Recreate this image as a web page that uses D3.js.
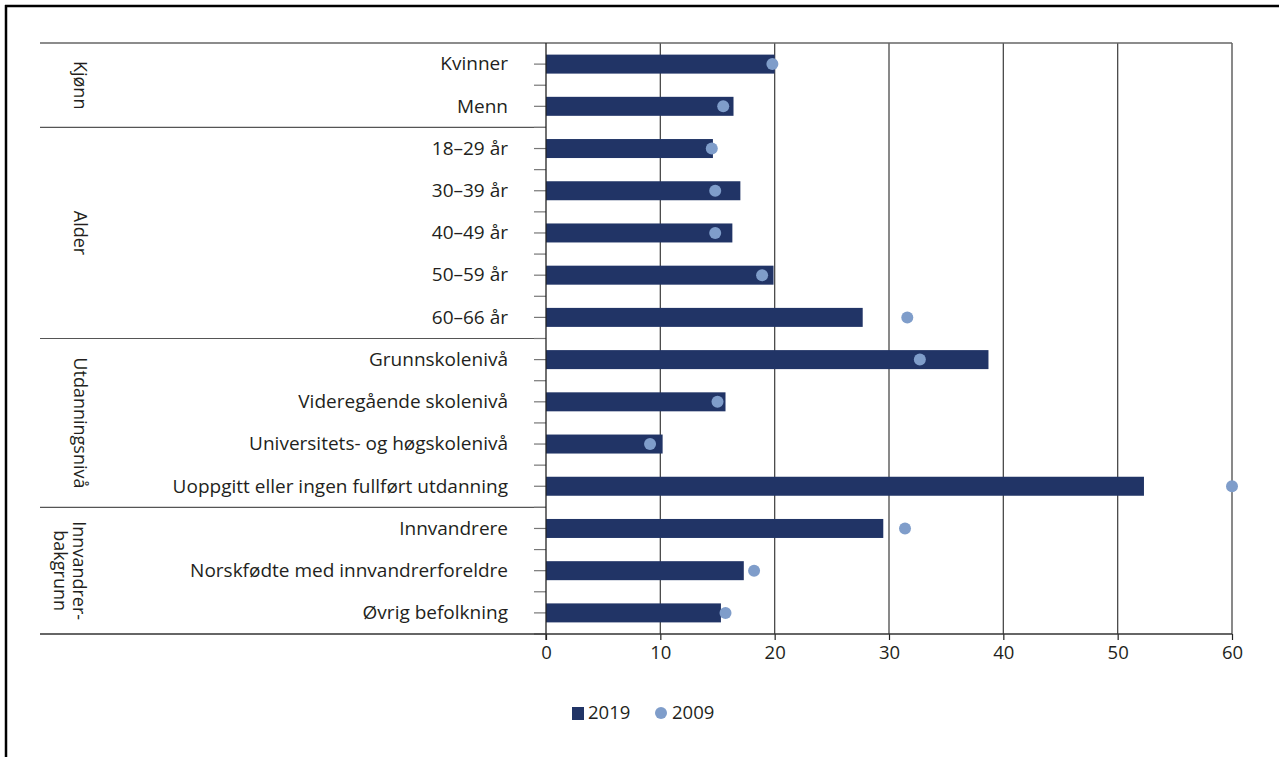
<!DOCTYPE html>
<meta charset="utf-8">
<style>
  body { margin: 0; background: #fff; }
  svg { display: block; font-family: "Open Sans", sans-serif; }
</style>
<svg width="1279" height="757"></svg>
<script src="https://d3js.org/d3.v7.min.js"></script>
<script>
const categories = ["Kvinner", "Menn", "18–29 år", "30–39 år", "40–49 år", "50–59 år", "60–66 år",
  "Grunnskolenivå", "Videregående skolenivå", "Universitets- og høgskolenivå",
  "Uoppgitt eller ingen fullført utdanning", "Innvandrere",
  "Norskfødte med innvandrerforeldre", "Øvrig befolkning"];
const values2019 = [20.0, 16.4, 14.6, 17.0, 16.3, 19.9, 27.7, 38.7, 15.7, 10.2, 52.3, 29.5, 17.3, 15.3];
const values2009 = [19.8, 15.5, 14.5, 14.8, 14.8, 18.9, 31.6, 32.7, 15.0, 9.1, 60.0, 31.4, 18.2, 15.7];
const groups = [
  { label: ["Kjønn"], first: "Kvinner", last: "Menn" },
  { label: ["Alder"], first: "18–29 år", last: "60–66 år" },
  { label: ["Utdanningsnivå"], first: "Grunnskolenivå", last: "Uoppgitt eller ingen fullført utdanning" },
  { label: ["Innvandrer-", "bakgrunn"], first: "Innvandrere", last: "Øvrig befolkning" }
];
const xTicks = [0, 10, 20, 30, 40, 50, 60];

const svg = d3.select("svg");
const barColor = "#213466", dotColor = "#7f9dca", gridColor = "#4a4a4a", textColor = "#231f20";
const plotLeft = 546, plotRight = 1232, plotTop = 43, plotBottom = 634, outerLeft = 40;

// frame
svg.append("line").attr("x1", 5).attr("x2", 1279).attr("y1", 6).attr("y2", 6)
  .attr("stroke", "#000").attr("stroke-width", 2.5);
svg.append("line").attr("x1", 6).attr("x2", 6).attr("y1", 5).attr("y2", 757)
  .attr("stroke", "#000").attr("stroke-width", 2.5);

const x = d3.scaleLinear().domain([0, 60]).range([plotLeft, plotRight]);
const y = d3.scaleBand().domain(categories).range([plotTop, plotBottom]).paddingInner(0.55).paddingOuter(0.275);
const off = (y.step() - y.bandwidth()) / 2;

// grid
svg.append("g").selectAll("line").data(xTicks.slice(1)).join("line")
  .attr("x1", d => x(d)).attr("x2", d => x(d)).attr("y1", plotTop).attr("y2", plotBottom)
  .attr("stroke", gridColor).attr("stroke-width", 1.3);

// top line
svg.append("line").attr("x1", outerLeft).attr("x2", plotRight).attr("y1", plotTop).attr("y2", plotTop)
  .attr("stroke", "#666").attr("stroke-width", 1.3);

// group separators and rotated group labels
groups.forEach((g, i) => {
  const y0 = y(g.first) - off, y1 = y(g.last) + y.bandwidth() + off;
  if (i < groups.length - 1) {
    svg.append("line").attr("x1", outerLeft).attr("x2", plotLeft).attr("y1", y1).attr("y2", y1)
      .attr("stroke", "#555").attr("stroke-width", 1.2);
  }
  const t = svg.append("text").attr("transform", `translate(74,${(y0 + y1) / 2}) rotate(90)`)
    .attr("text-anchor", "middle").attr("font-size", 18).attr("fill", textColor);
  g.label.forEach((l, k) => t.append("tspan").attr("x", 0).attr("y", k * 19 + (g.label.length > 1 ? 1 : 0)).text(l));
});

// y ticks at centres and boundaries
const yTickPos = [];
categories.forEach(c => { yTickPos.push(y(c) + y.bandwidth() / 2); yTickPos.push(y(c) + y.bandwidth() + off); });
svg.append("g").selectAll("line").data(yTickPos).join("line")
  .attr("x1", plotLeft - 12).attr("x2", plotLeft).attr("y1", d => d).attr("y2", d => d)
  .attr("stroke", "#777").attr("stroke-width", 1.2);

// bars
svg.append("g").selectAll("rect").data(categories).join("rect")
  .attr("x", x(0)).attr("y", d => y(d))
  .attr("width", (d, i) => x(values2019[i]) - x(0)).attr("height", y.bandwidth())
  .attr("fill", barColor);

// dots
svg.append("g").selectAll("circle").data(categories).join("circle")
  .attr("cx", (d, i) => x(values2009[i])).attr("cy", d => y(d) + y.bandwidth() / 2)
  .attr("r", 6).attr("fill", dotColor);

// category labels
svg.append("g").selectAll("text").data(categories).join("text")
  .attr("x", 508).attr("y", d => y(d) + y.bandwidth() / 2).attr("dy", "0.33em")
  .attr("text-anchor", "end").attr("font-size", 19).attr("fill", textColor).text(d => d);

// y axis line
svg.append("line").attr("x1", plotLeft).attr("x2", plotLeft).attr("y1", plotTop).attr("y2", plotBottom + 6)
  .attr("stroke", "#222").attr("stroke-width", 1.3);

// x axis
const xAxis = svg.append("g").attr("transform", `translate(0,${plotBottom})`)
  .call(d3.axisBottom(x).tickValues(xTicks).tickSize(6).tickSizeOuter(0));
xAxis.select(".domain").remove();
xAxis.selectAll(".tick line").attr("stroke", "#222").attr("stroke-width", 1.2);
xAxis.selectAll(".tick text").attr("font-size", 18.5).attr("fill", textColor)
  .attr("font-family", "Open Sans").attr("dy", "0.85em");
svg.append("line").attr("x1", outerLeft).attr("x2", plotRight).attr("y1", plotBottom).attr("y2", plotBottom)
  .attr("stroke", "#333").attr("stroke-width", 1.5);

// legend
const lg = svg.append("g").attr("font-size", 18.5).attr("fill", textColor);
lg.append("rect").attr("x", 572).attr("y", 707).attr("width", 12).attr("height", 13).attr("fill", barColor);
lg.append("text").attr("x", 588).attr("y", 713).attr("dy", "0.35em").text("2019");
lg.append("circle").attr("cx", 661).attr("cy", 713).attr("r", 6).attr("fill", dotColor);
lg.append("text").attr("x", 672).attr("y", 713).attr("dy", "0.35em").text("2009");
</script>
